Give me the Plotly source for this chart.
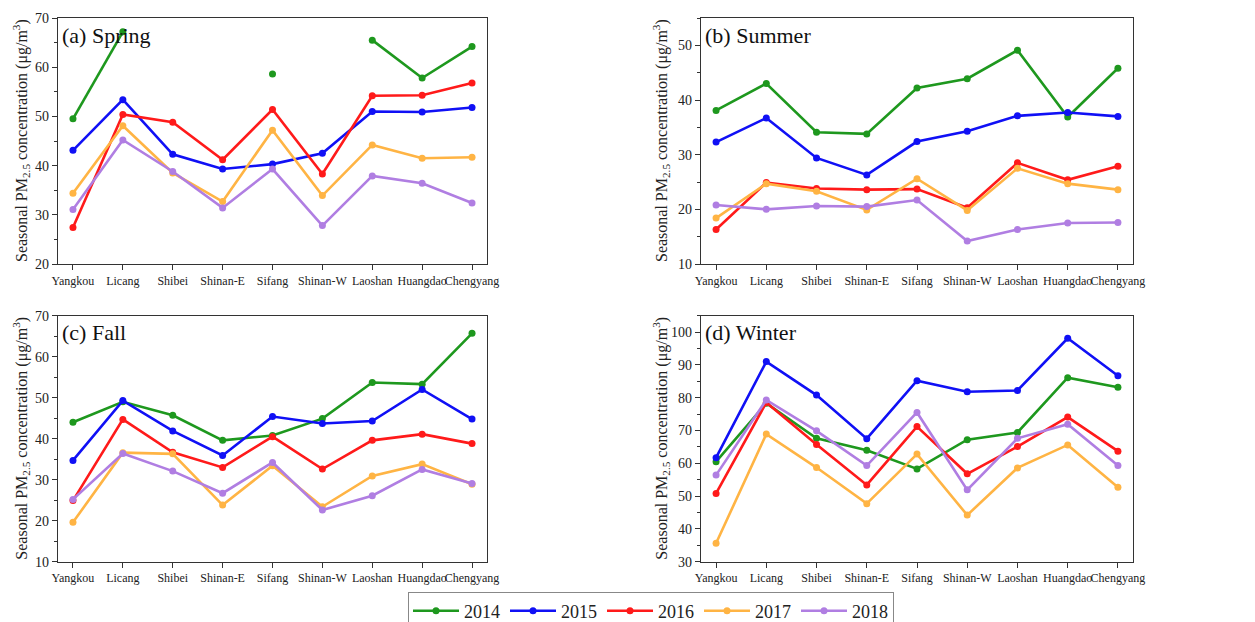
import plotly.graph_objects as go

sites = ["Yangkou", "Licang", "Shibei", "Shinan-E", "Sifang", "Shinan-W", "Laoshan", "Huangdao", "Chengyang"]
years = ["2014", "2015", "2016", "2017", "2018"]
colors = ["#1e981e", "#1010f5", "#ff1a1a", "#ffb444", "#b07ee2"]

spring_2014 = [49.5, 67.2, None, None, 58.6, None, 65.5, 57.8, 64.2]
spring_2015 = [43.1, 53.4, 42.3, 39.3, 40.3, 42.5, 51.0, 50.9, 51.8]
spring_2016 = [27.4, 50.4, 48.8, 41.2, 51.4, 38.3, 54.2, 54.3, 56.8]
spring_2017 = [34.4, 48.1, 38.5, 32.7, 47.2, 33.9, 44.2, 41.5, 41.7]
spring_2018 = [31.1, 45.2, 38.8, 31.4, 39.3, 27.8, 37.9, 36.4, 32.4]

summer_2014 = [38.1, 43.0, 34.1, 33.8, 42.2, 43.9, 49.1, 36.9, 45.8]
summer_2015 = [32.3, 36.7, 29.4, 26.3, 32.4, 34.3, 37.1, 37.7, 37.0]
summer_2016 = [16.3, 24.9, 23.8, 23.6, 23.7, 20.3, 28.5, 25.4, 27.9]
summer_2017 = [18.4, 24.7, 23.3, 19.9, 25.6, 19.8, 27.5, 24.7, 23.6]
summer_2018 = [20.8, 20.0, 20.6, 20.5, 21.7, 14.2, 16.3, 17.5, 17.6]

fall_2014 = [44.0, 49.0, 45.7, 39.6, 40.8, 44.9, 53.7, 53.3, 65.7]
fall_2015 = [34.7, 49.3, 41.9, 35.9, 45.4, 43.7, 44.3, 52.0, 44.8]
fall_2016 = [24.9, 44.7, 36.7, 33.0, 40.5, 32.6, 39.6, 41.1, 38.8]
fall_2017 = [19.6, 36.6, 36.3, 23.8, 33.4, 23.4, 30.9, 33.8, 28.9]
fall_2018 = [25.2, 36.4, 32.1, 26.7, 34.2, 22.6, 26.1, 32.5, 29.1]

winter_2014 = [60.5, 78.3, 67.6, 64.0, 58.3, 67.2, 69.4, 86.1, 83.2]
winter_2015 = [61.7, 91.0, 80.8, 67.5, 85.2, 81.8, 82.2, 98.1, 86.7]
winter_2016 = [50.8, 78.5, 65.7, 53.4, 71.2, 56.8, 65.1, 74.1, 63.7]
winter_2017 = [35.6, 68.9, 58.7, 47.7, 62.8, 44.2, 58.6, 65.6, 52.7]
winter_2018 = [56.4, 79.3, 69.9, 59.3, 75.5, 51.9, 67.6, 71.9, 59.3]

panels = [
    ("(a) Spring", [spring_2014, spring_2015, spring_2016, spring_2017, spring_2018], [20, 70], 10),
    ("(b) Summer", [summer_2014, summer_2015, summer_2016, summer_2017, summer_2018], [10, 55], 10),
    ("(c) Fall", [fall_2014, fall_2015, fall_2016, fall_2017, fall_2018], [10, 70], 10),
    ("(d) Winter", [winter_2014, winter_2015, winter_2016, winter_2017, winter_2018], [30, 105], 10),
]

# page body has an 8px margin: size the figure so it fills the window exactly
OFF = 8
W, H = 1255 - OFF, 622 - OFF


def px_x(v):
    return (v - OFF) / W


def px_y(v):
    return 1 - (v - OFF) / H


xdoms = [[px_x(58), px_x(487)], [px_x(701), px_x(1133)], [px_x(58), px_x(487)], [px_x(701), px_x(1133)]]
ydoms = [[px_y(264), px_y(18)], [px_y(264), px_y(18)],
         [px_y(561.7), px_y(315.7)], [px_y(561.7), px_y(315.7)]]
title_x = [21, 661, 21, 661]

FONT = "Liberation Serif"
fig = go.Figure()
layout = {}
annotations = []
for i, (title, series, yr, dt) in enumerate(panels):
    n = i + 1
    xa = "x" if n == 1 else f"x{n}"
    ya = "y" if n == 1 else f"y{n}"
    for j, vals in enumerate(series):
        fig.add_trace(go.Scatter(
            x=sites, y=vals, name=years[j], mode="lines+markers",
            line=dict(color=colors[j], width=2.6),
            marker=dict(color=colors[j], size=7),
            connectgaps=False, showlegend=(i == 0),
            xaxis=xa, yaxis=ya, legendgroup=years[j],
        ))
    axis_common = dict(showline=True, linecolor="#333333", linewidth=1.2, mirror=True,
                       showgrid=False, zeroline=False, ticks="outside", tickcolor="#333333",
                       ticklen=5, automargin=False)
    layout["xaxis" if n == 1 else f"xaxis{n}"] = dict(
        axis_common, domain=xdoms[i], anchor=ya, type="category", tickangle=0,
        tickfont=dict(family=FONT, size=12, color="#222222"),
        categoryorder="array", categoryarray=sites, range=[-0.3, 8.3])
    layout["yaxis" if n == 1 else f"yaxis{n}"] = dict(
        axis_common, domain=ydoms[i], anchor=xa, range=yr, dtick=dt, tick0=0,
        tickfont=dict(family=FONT, size=14, color="#222222"),
        minor=dict(ticks="outside", ticklen=3, dtick=5, tickcolor="#333333"))
    annotations.append(dict(
        text=title, xref=f"{xa} domain", yref=f"{ya} domain", x=0.005, y=0.93,
        xanchor="left", yanchor="middle", showarrow=False,
        font=dict(family=FONT, size=22, color="#111111")))
    annotations.append(dict(
        text="Seasonal PM<sub>2.5</sub> concentration (μg/m<sup>3</sup>)",
        xref="paper", yref="paper", x=px_x(title_x[i]), y=sum(ydoms[i]) / 2,
        xanchor="center", yanchor="middle", textangle=-90, showarrow=False,
        font=dict(family=FONT, size=16, color="#222222")))

fig.update_layout(
    **layout,
    annotations=annotations,
    width=W, height=H,
    margin=dict(l=0, r=0, t=0, b=0, autoexpand=False),
    paper_bgcolor="white", plot_bgcolor="white",
    font=dict(family=FONT, color="#222222"),
    legend=dict(orientation="h", x=px_x(651), y=px_y(611), xanchor="center", yanchor="middle",
                bordercolor="#888888", borderwidth=1, font=dict(family=FONT, size=18),
                itemwidth=46, tracegroupgap=0, bgcolor="white"),
)

fig.write_html("out.html")
